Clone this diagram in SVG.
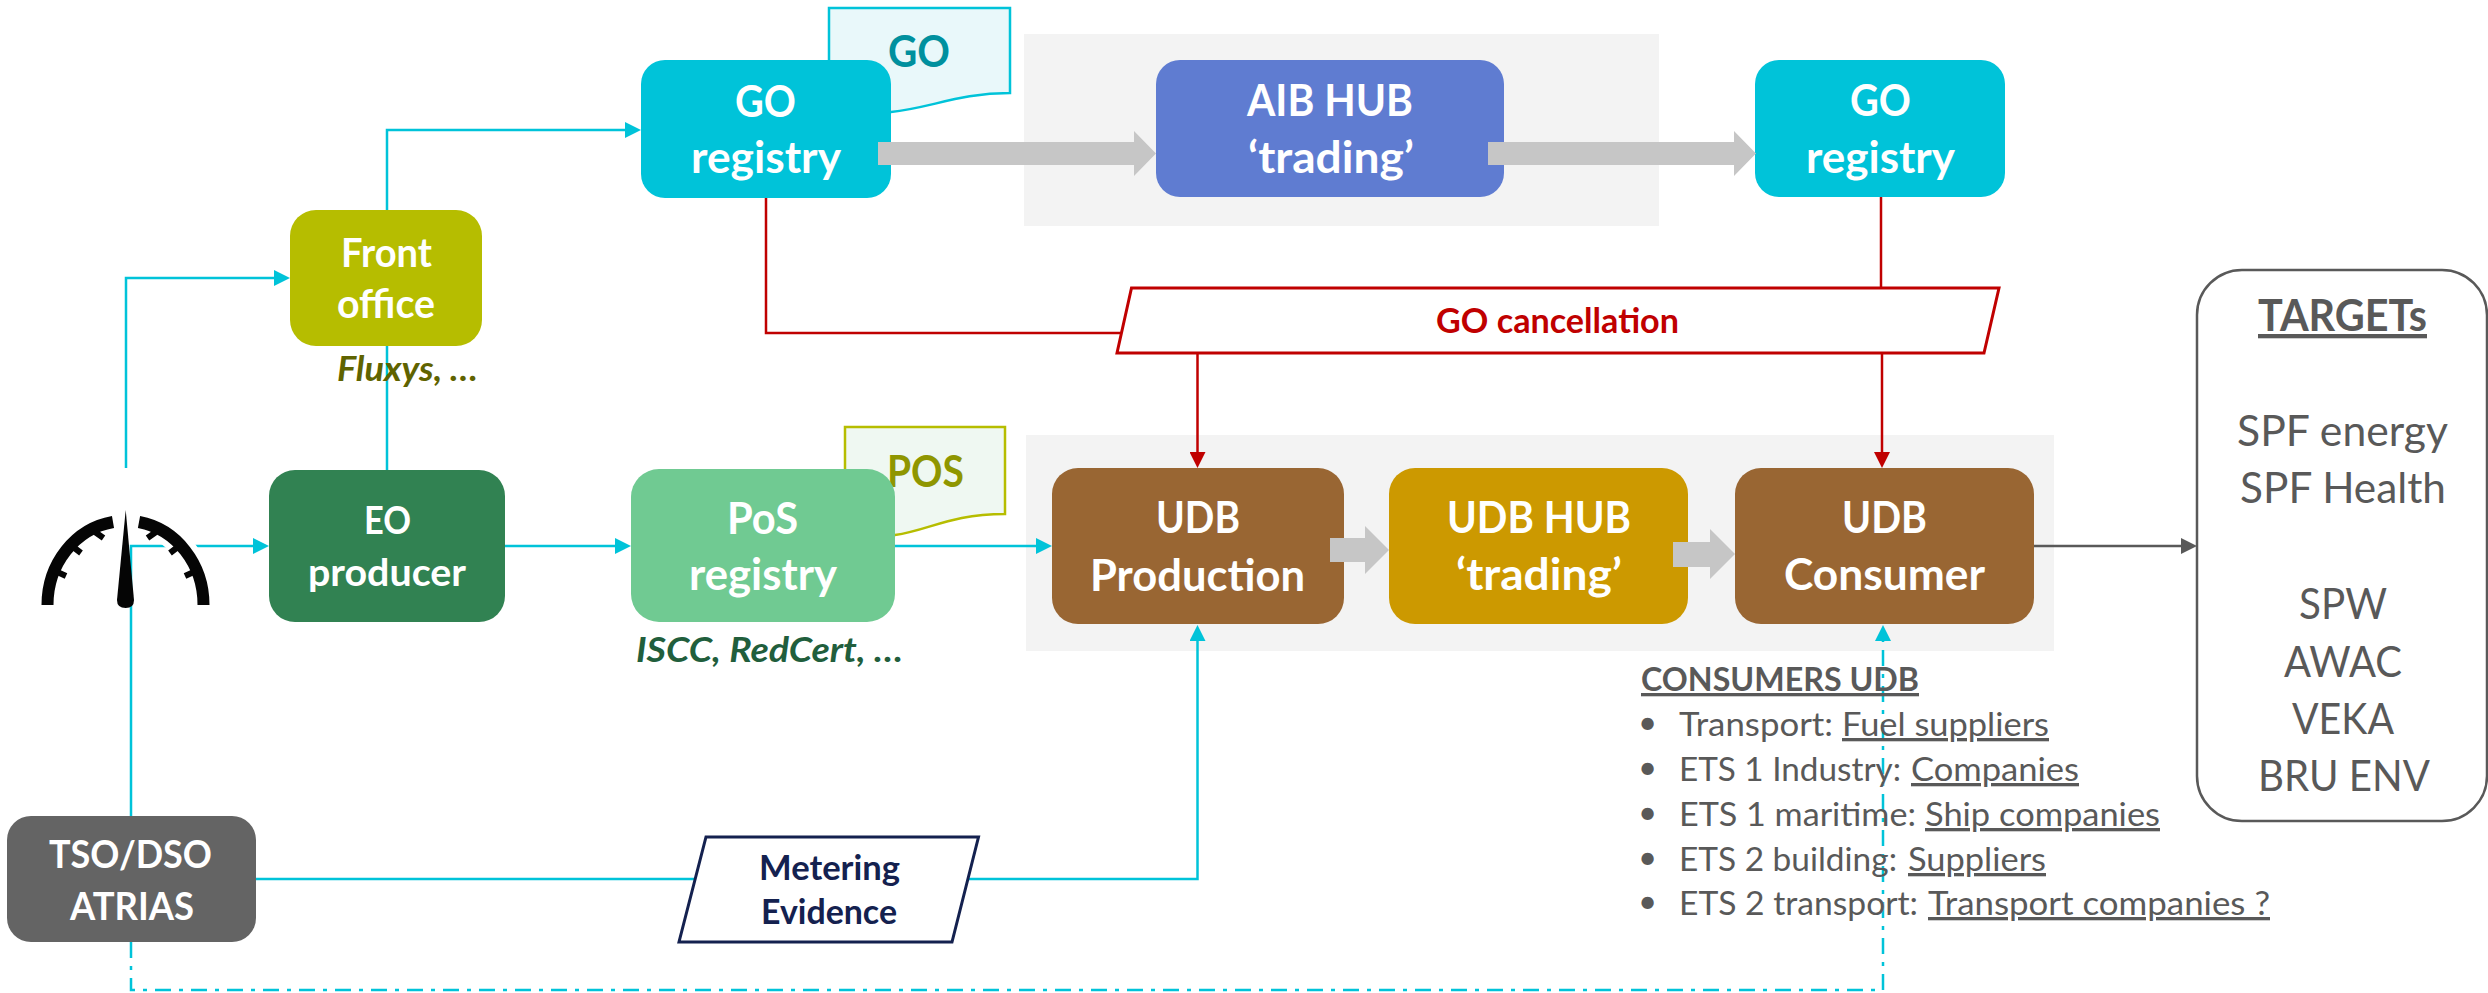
<svg xmlns="http://www.w3.org/2000/svg" width="2488" height="993" viewBox="0 0 2488 993">
<style>
text{font-family:Lato,"Liberation Sans",sans-serif}
.w{fill:#fff;font-weight:700;font-size:44px}
.g{fill:#595959;font-size:33px}
.t{fill:#595959;font-size:43px}
.u{text-decoration:underline}
.panel{fill:#f3f3f3}
.c{fill:none;stroke:#00c3d9;stroke-width:2.5}
.r{fill:none;stroke:#c00000;stroke-width:2.5}
.big{fill:#c6c6c6}
</style>
<defs>
<marker id="ac" markerUnits="userSpaceOnUse" markerWidth="16" markerHeight="16" viewBox="0 0 16 16" refX="8" refY="8" orient="auto"><path d="M0 0L16 8L0 16Z" fill="#00c3d9"/></marker>
<marker id="ar" markerUnits="userSpaceOnUse" markerWidth="16" markerHeight="16" viewBox="0 0 16 16" refX="8" refY="8" orient="auto"><path d="M0 0L16 8L0 16Z" fill="#c00000"/></marker>
<marker id="ag" markerUnits="userSpaceOnUse" markerWidth="16" markerHeight="16" viewBox="0 0 16 16" refX="8" refY="8" orient="auto"><path d="M0 0L16 8L0 16Z" fill="#595959"/></marker>
</defs>
<rect class="panel" x="1024" y="34" width="635" height="192"/>
<rect class="panel" x="1026" y="435" width="1028" height="216"/>
<g id="connectors">
<path class="c" d="M126 468V278H282" marker-end="url(#ac)"/>
<path class="c" d="M387 470V130H633" marker-end="url(#ac)"/>
<path class="c" d="M131 816V546H261" marker-end="url(#ac)"/>
<path class="c" d="M505 546H623" marker-end="url(#ac)"/>
<path class="c" d="M895 546H1044" marker-end="url(#ac)"/>
<path class="c" d="M256 879H1197.5V633" marker-end="url(#ac)"/>
<path class="c" d="M131 942V990H1883V633" stroke-dasharray="16 8 4 8" marker-end="url(#ac)"/>
<path class="r" d="M766 198V333H1124"/>
<path class="r" d="M1197.5 353V460" marker-end="url(#ar)"/>
<path class="r" d="M1881 197V288"/>
<path class="r" d="M1882 353V460" marker-end="url(#ar)"/>
<path d="M2034 546H2189" fill="none" stroke="#595959" stroke-width="2.5" marker-end="url(#ag)"/>
</g>
<g id="doc-go">
<path d="M829 8H1010V93C960 93 930 108 891 112H829Z" fill="#e9f8fa" stroke="#00c3d9" stroke-width="2.5"/>
<text x="888" y="67" textLength="62" lengthAdjust="spacingAndGlyphs" font-size="44" font-weight="700" fill="#00909e">GO</text>
</g>
<g id="doc-pos">
<path d="M845 427H1005V514C950 514 930 530 895 535H845Z" fill="#eff8f2" stroke="#b6bd00" stroke-width="2.5"/>
<text x="887" y="487" textLength="77" lengthAdjust="spacingAndGlyphs" font-size="44" font-weight="700" fill="#8f9600">POS</text>
</g>
<g id="go-registry-1">
<rect x="641" y="60" width="250" height="138" rx="24" fill="#00c3d9"/>
<text class="w" x="735" y="117" textLength="61" lengthAdjust="spacingAndGlyphs">GO</text>
<text class="w" x="691" y="173" textLength="150" lengthAdjust="spacingAndGlyphs">registry</text>
</g>
<g id="aib-hub">
<rect x="1156" y="60" width="348" height="137" rx="24" fill="#5f7cd1"/>
<text class="w" x="1247" y="116" textLength="166" lengthAdjust="spacingAndGlyphs">AIB HUB</text>
<text class="w" x="1248" y="173" textLength="166" lengthAdjust="spacingAndGlyphs">‘trading’</text>
</g>
<g id="go-registry-2">
<rect x="1755" y="60" width="250" height="137" rx="24" fill="#00c3d9"/>
<text class="w" x="1850" y="116" textLength="61" lengthAdjust="spacingAndGlyphs">GO</text>
<text class="w" x="1806" y="173" textLength="149" lengthAdjust="spacingAndGlyphs">registry</text>
</g>
<g id="front-office">
<rect x="290" y="210" width="192" height="136" rx="26" fill="#b6bd00"/>
<text class="w" x="341" y="267" textLength="91" lengthAdjust="spacingAndGlyphs" style="font-size:40px">Front</text>
<text class="w" x="337" y="318" textLength="98" lengthAdjust="spacingAndGlyphs" style="font-size:40px">office</text>
<text x="337" y="381" textLength="141" lengthAdjust="spacingAndGlyphs" font-size="34" font-weight="700" font-style="italic" fill="#5f6300">Fluxys, …</text>
</g>
<g id="eo-producer">
<rect x="269" y="470" width="236" height="152" rx="26" fill="#318252"/>
<text class="w" x="364" y="534" textLength="47" lengthAdjust="spacingAndGlyphs" style="font-size:38px">EO</text>
<text class="w" x="308" y="586" textLength="158" lengthAdjust="spacingAndGlyphs" style="font-size:38px">producer</text>
</g>
<g id="pos-registry">
<rect x="631" y="469" width="264" height="153" rx="28" fill="#70ca92"/>
<text class="w" x="727" y="534" textLength="71" lengthAdjust="spacingAndGlyphs">PoS</text>
<text class="w" x="689" y="590" textLength="148" lengthAdjust="spacingAndGlyphs">registry</text>
<text x="636" y="662" textLength="267" lengthAdjust="spacingAndGlyphs" font-size="34" font-weight="700" font-style="italic" fill="#215e3c">ISCC, RedCert, …</text>
</g>
<g id="udb-production">
<rect x="1052" y="468" width="292" height="156" rx="26" fill="#996633"/>
<text class="w" x="1156" y="533" textLength="84" lengthAdjust="spacingAndGlyphs">UDB</text>
<text class="w" x="1090" y="591" textLength="215" lengthAdjust="spacingAndGlyphs">Production</text>
</g>
<g id="udb-hub">
<rect x="1389" y="468" width="299" height="156" rx="26" fill="#cc9900"/>
<text class="w" x="1447" y="533" textLength="184" lengthAdjust="spacingAndGlyphs">UDB HUB</text>
<text class="w" x="1456" y="590" textLength="166" lengthAdjust="spacingAndGlyphs">‘trading’</text>
</g>
<g id="udb-consumer">
<rect x="1735" y="468" width="299" height="156" rx="26" fill="#996633"/>
<text class="w" x="1842" y="533" textLength="85" lengthAdjust="spacingAndGlyphs">UDB</text>
<text class="w" x="1784" y="590" textLength="201" lengthAdjust="spacingAndGlyphs">Consumer</text>
</g>
<g id="tso-dso">
<rect x="7" y="816" width="249" height="126" rx="24" fill="#646464"/>
<text class="w" x="49" y="868" textLength="163" lengthAdjust="spacingAndGlyphs" style="font-size:38px">TSO/DSO</text>
<text class="w" x="70" y="920" textLength="124" lengthAdjust="spacingAndGlyphs" style="font-size:38px">ATRIAS</text>
</g>
<g id="arrows">
<path class="big" d="M878 142H1134V131L1156 153.500L1134 176V165H878Z"/>
<path class="big" d="M1488 142H1734V131L1756 153.500L1734 176V165H1488Z"/>
<path class="big" d="M1330 538H1365V526L1389 550L1365 574V562H1330Z"/>
<path class="big" d="M1673 542H1710V529L1735 554L1710 579V567H1673Z"/>
</g>
<g id="go-cancellation">
<path d="M1131.500 288H1999L1984 353H1117Z" fill="#fff" stroke="#c00000" stroke-width="3"/>
<text x="1436" y="333" textLength="243" lengthAdjust="spacingAndGlyphs" font-size="34" font-weight="700" fill="#c00000">GO cancellation</text>
</g>
<g id="metering-evidence">
<path d="M706 837H978.500L952 942H679Z" fill="#fff" stroke="#14214f" stroke-width="3"/>
<text x="759" y="880" textLength="141" lengthAdjust="spacingAndGlyphs" font-size="34" font-weight="700" fill="#14214f">Metering</text>
<text x="761" y="924" textLength="136" lengthAdjust="spacingAndGlyphs" font-size="34" font-weight="700" fill="#14214f">Evidence</text>
</g>
<g id="gauge">
<path d="M47.500 605A78 84 0 0 1 113 522M139 522A78 84 0 0 1 203.500 605" fill="none" stroke="#fff" stroke-width="24"/>
<path d="M47.500 605A78 84 0 0 1 113 522M139 522A78 84 0 0 1 203.500 605" fill="none" stroke="#050505" stroke-width="12"/>
<path d="M53 570L66 576M68 543L81 553M95 532L103.500 538M198 570L185 576M183 543L170 553M156 532L147.500 538" fill="none" stroke="#050505" stroke-width="6"/>
<path d="M125.700 510L134 600Q134 608 125.700 608Q117 608 117 600Z" fill="#050505"/>
</g>
<g id="consumers-udb">
<text class="g u" x="1641" y="691" textLength="278" lengthAdjust="spacingAndGlyphs" style="font-weight:700">CONSUMERS UDB</text>
<text class="g" x="1638" y="734">•</text>
<text class="g" x="1679" y="736" textLength="154" lengthAdjust="spacingAndGlyphs">Transport:</text>
<text class="g u" x="1842" y="736" textLength="207" lengthAdjust="spacingAndGlyphs">Fuel suppliers</text>
<text class="g" x="1638" y="779">•</text>
<text class="g" x="1679" y="781" textLength="222" lengthAdjust="spacingAndGlyphs">ETS 1 Industry:</text>
<text class="g u" x="1911" y="781" textLength="168" lengthAdjust="spacingAndGlyphs">Companies</text>
<text class="g" x="1638" y="824">•</text>
<text class="g" x="1679" y="826" textLength="237" lengthAdjust="spacingAndGlyphs">ETS 1 maritime:</text>
<text class="g u" x="1925" y="826" textLength="235" lengthAdjust="spacingAndGlyphs">Ship companies</text>
<text class="g" x="1638" y="869">•</text>
<text class="g" x="1679" y="871" textLength="218" lengthAdjust="spacingAndGlyphs">ETS 2 building:</text>
<text class="g u" x="1908" y="871" textLength="138" lengthAdjust="spacingAndGlyphs">Suppliers</text>
<text class="g" x="1638" y="913">•</text>
<text class="g" x="1679" y="915" textLength="239" lengthAdjust="spacingAndGlyphs">ETS 2 transport:</text>
<text class="g u" x="1928" y="915" textLength="342" lengthAdjust="spacingAndGlyphs">Transport companies ?</text>
</g>
<g id="targets">
<rect x="2197" y="270" width="290" height="551" rx="45" fill="#fff" stroke="#595959" stroke-width="2.500"/>
<text class="t u" x="2258" y="331" textLength="169" lengthAdjust="spacingAndGlyphs" style="font-weight:700">TARGETs</text>
<text class="t" x="2237" y="446" textLength="211" lengthAdjust="spacingAndGlyphs">SPF energy</text>
<text class="t" x="2240" y="503" textLength="206" lengthAdjust="spacingAndGlyphs">SPF Health</text>
<text class="t" x="2299" y="619" textLength="88" lengthAdjust="spacingAndGlyphs">SPW</text>
<text class="t" x="2284" y="677" textLength="118" lengthAdjust="spacingAndGlyphs">AWAC</text>
<text class="t" x="2292" y="734" textLength="102" lengthAdjust="spacingAndGlyphs">VEKA</text>
<text class="t" x="2258" y="791" textLength="172" lengthAdjust="spacingAndGlyphs">BRU ENV</text>
</g>
</svg>
